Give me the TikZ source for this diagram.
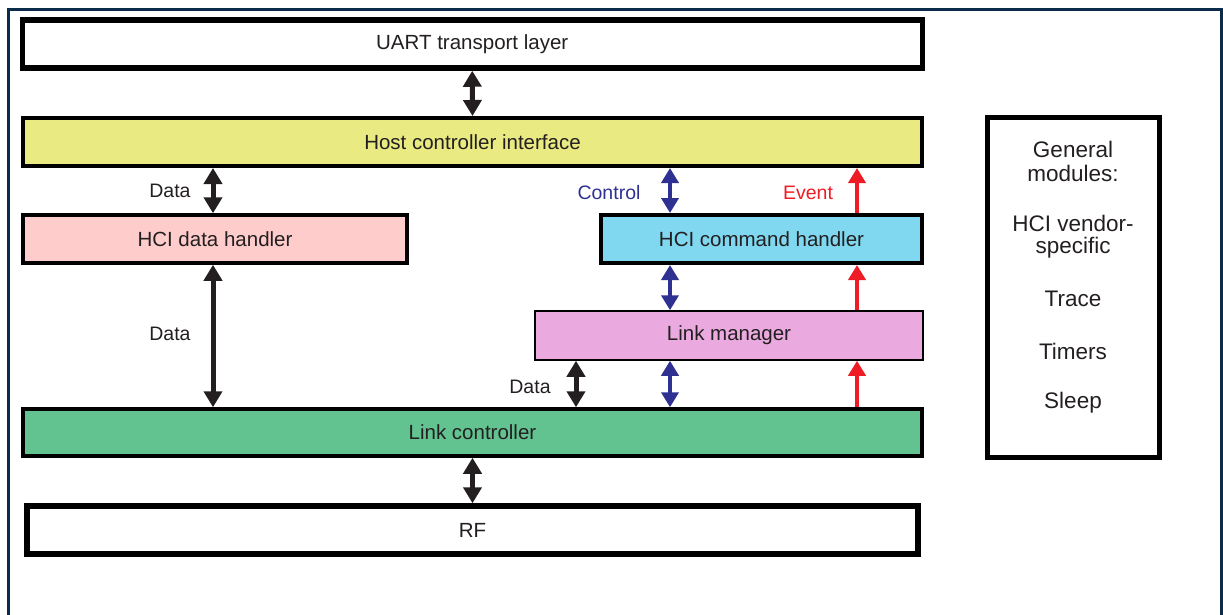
\documentclass[tikz,border=0pt]{standalone}
\usepackage{fontspec}
\setmainfont{Liberation Sans}
\usetikzlibrary{arrows.meta}
\definecolor{frameC}{HTML}{0B2B4B}
\definecolor{txt}{HTML}{231F20}
\definecolor{yel}{HTML}{E9EA82}
\definecolor{pinkC}{HTML}{FFCCCC}
\definecolor{cyanC}{HTML}{80D8F0}
\definecolor{purpC}{HTML}{EAAAE0}
\definecolor{greenC}{HTML}{63C390}
\definecolor{blueC}{HTML}{2E3192}
\definecolor{redC}{HTML}{EE1C25}
\tikzset{
  layer/.style={draw=black, rectangle, inner sep=0pt, text=txt, font=\fontsize{20.5}{24}\selectfont},
  lbl/.style={inner sep=0pt, font=\fontsize{19.5}{22}\selectfont},
  gm/.style={inner sep=0pt, text=txt, font=\fontsize{22.5}{25}\selectfont},
  darr/.style={draw=txt, line width=5pt, {Triangle[width=18pt,length=16pt]}-{Triangle[width=18pt,length=16pt]}},
  barr/.style={draw=blueC, line width=4pt, {Triangle[width=17pt,length=15pt]}-{Triangle[width=17pt,length=15pt]}},
  rarr/.style={draw=redC, line width=4pt, -{Triangle[width=17pt,length=15pt]}},
}
\begin{document}
\begin{tikzpicture}[x=1pt,y=-1pt]
\useasboundingbox (0,0) rectangle (1223,614);
% outer frame
\draw[frameC, line width=3.5pt] (8.5,620) -- (8.5,9.5) -- (1221.5,9.5) -- (1221.5,620);
% layers
\node[layer, line width=5.5pt, fill=white, minimum width=900pt, minimum height=48pt] (uart) at (472.25,44) {\raisebox{-1.5pt}{UART transport layer}};
\node[layer, line width=4pt, fill=yel, minimum width=899pt, minimum height=48pt] (hci) at (472.5,142) {\raisebox{-1.5pt}{Host controller interface}};
\node[layer, line width=3.5pt, fill=pinkC, minimum width=384pt, minimum height=48pt] (dh) at (215,239) {\raisebox{-1.5pt}{HCI data handler}};
\node[layer, line width=4pt, fill=cyanC, minimum width=321pt, minimum height=48pt] (ch) at (761.5,239) {\raisebox{-1.5pt}{HCI command handler}};
\node[layer, line width=1.5pt, fill=purpC, minimum width=388pt, minimum height=49pt] (lm) at (729,335.5) {\raisebox{-1.5pt}{Link manager}};
\node[layer, line width=3.5pt, fill=greenC, minimum width=899pt, minimum height=47pt] (lc) at (472.5,432.5) {\raisebox{-1.5pt}{Link controller}};
\node[layer, line width=5.5pt, fill=white, minimum width=891pt, minimum height=48pt] (rf) at (472.5,530) {\raisebox{-1.5pt}{RF}};
% general modules
\node[draw=black, line width=5pt, rectangle, inner sep=0pt, minimum width=172pt, minimum height=340pt] (gen) at (1073,287.5) {};
\node[gm] (g1) at (1073,149) {General};
\node[gm] (g2) at (1073,173) {modules:};
\node[gm] (g3) at (1073,223) {HCI vendor-};
\node[gm] (g4) at (1073,248) {specific};
\node[gm] (g5) at (1073,299) {Trace};
\node[gm] (g6) at (1073,351) {Timers};
\node[gm] (g7) at (1073,403) {Sleep};
% x positions
\coordinate (xd) at (213,0);
\coordinate (xc) at (670,0);
\coordinate (xe) at (857,0);
\coordinate (xl) at (576,0);
% arrows
\draw[darr] (uart.south) -- (hci.north);
\draw[darr] (hci.south -| xd) -- (dh.north -| xd);
\draw[darr] (dh.south -| xd) -- (lc.north -| xd);
\draw[barr] (hci.south -| xc) -- (ch.north -| xc);
\draw[barr] (ch.south -| xc) -- (lm.north -| xc);
\draw[barr] (lm.south -| xc) -- (lc.north -| xc);
\draw[rarr] (ch.north -| xe) -- (hci.south -| xe);
\draw[rarr] (lm.north -| xe) -- (ch.south -| xe);
\draw[rarr] (lc.north -| xe) -- (lm.south -| xe);
\draw[darr] (lm.south -| xl) -- (lc.north -| xl);
\draw[darr] (lc.south) -- (rf.north);
% labels
\node[lbl, text=txt] (l1) at (170,191) {Data};
\node[lbl, text=txt] (l2) at (170,334) {Data};
\node[lbl, text=txt] (l3) at (530,387) {Data};
\node[lbl, text=blueC] (l4) at (609,193) {Control};
\node[lbl, text=redC] (l5) at (808,193) {Event};
\end{tikzpicture}
\end{document}
